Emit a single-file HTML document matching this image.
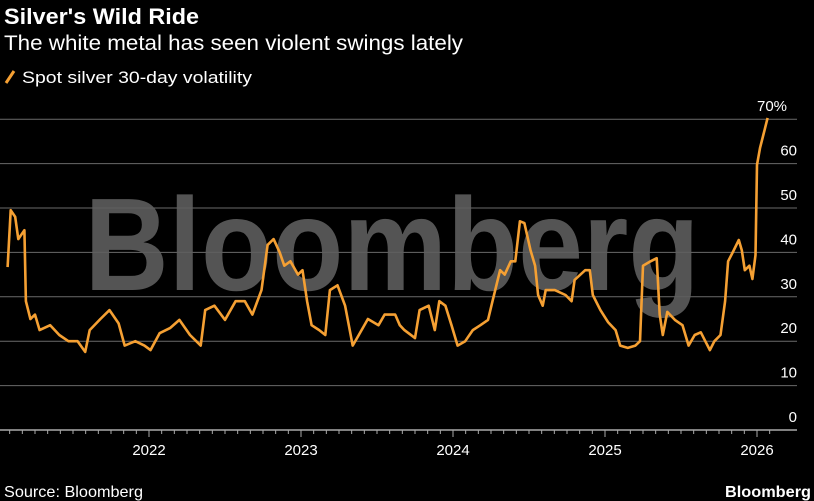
<!DOCTYPE html>
<html><head><meta charset="utf-8"><style>
html,body{margin:0;padding:0;background:#000;}
body{width:814px;height:501px;overflow:hidden;font-family:"Liberation Sans",sans-serif;}
</style></head><body>
<svg id="chart" width="814" height="501" viewBox="0 0 814 501" xmlns="http://www.w3.org/2000/svg" style="position:absolute;left:0;top:0">
<rect width="814" height="501" fill="#000"/>
<text x="4" y="24" fill="#fff" font-size="22" font-weight="bold" textLength="195" lengthAdjust="spacingAndGlyphs">Silver's Wild Ride</text>
<text x="4" y="50" fill="#fff" font-size="21" textLength="459" lengthAdjust="spacingAndGlyphs">The white metal has seen violent swings lately</text>
<g>
<line x1="6" y1="83" x2="14" y2="71" stroke="#f5a033" stroke-width="3"/>
<text x="22" y="83" fill="#fff" font-size="17" textLength="230" lengthAdjust="spacingAndGlyphs">Spot silver 30-day volatility</text>
</g>
<g id="grid"></g>
<text x="392" y="290" fill="#5e5e5e" font-size="132" font-weight="bold" text-anchor="middle" textLength="615" lengthAdjust="spacingAndGlyphs" opacity="0.9">Bloomberg</text>
<g id="yticks"></g>
<g id="xaxis"></g>
<path id="line" fill="none" stroke="#f5a033" stroke-width="2.6" stroke-linejoin="round"/>
<text x="4" y="497" fill="#fff" font-size="16" textLength="139" lengthAdjust="spacingAndGlyphs">Source: Bloomberg</text>
<text x="725" y="497" fill="#fff" font-size="16" font-weight="bold" textLength="86" lengthAdjust="spacingAndGlyphs">Bloomberg</text>
</svg>
<script>
const dates=[2021.07,2021.09,2021.12,2021.14,2021.18,2021.19,2021.22,2021.25,2021.28,2021.35,2021.41,2021.47,2021.53,2021.58,2021.61,2021.68,2021.74,2021.80,2021.84,2021.91,2021.97,2022.01,2022.07,2022.14,2022.20,2022.27,2022.34,2022.37,2022.43,2022.50,2022.57,2022.63,2022.68,2022.74,2022.78,2022.82,2022.86,2022.89,2022.93,2022.98,2023.01,2023.04,2023.07,2023.12,2023.16,2023.19,2023.24,2023.29,2023.34,2023.38,2023.44,2023.51,2023.55,2023.62,2023.65,2023.68,2023.75,2023.78,2023.84,2023.88,2023.91,2023.95,2023.99,2024.03,2024.08,2024.13,2024.18,2024.23,2024.26,2024.31,2024.34,2024.38,2024.41,2024.44,2024.47,2024.51,2024.54,2024.56,2024.59,2024.61,2024.67,2024.74,2024.78,2024.80,2024.87,2024.90,2024.92,2024.97,2025.02,2025.07,2025.10,2025.15,2025.20,2025.23,2025.25,2025.30,2025.34,2025.36,2025.38,2025.41,2025.46,2025.51,2025.55,2025.59,2025.63,2025.66,2025.69,2025.72,2025.76,2025.79,2025.81,2025.84,2025.88,2025.90,2025.92,2025.95,2025.97,2025.99,2026.00,2026.02,2026.05,2026.07];
const vols=[36.7,49.5,48,43,45,29,25,26,22.5,23.6,21.4,20,20,17.6,22.5,25,27,24,19,20,19,18,21.8,23,24.8,21.4,19,27,28,24.8,29,29,26,31.5,41.7,43,40,37,38,35,36,29,23.6,22.5,21.4,31.5,32.6,28,19,21.4,25,23.6,26,26,23.6,22.5,20.7,27,28,22.5,29,28,23.6,19,20,22.5,23.6,24.8,29,36,35,38,38,47,46.6,40.5,37,30.4,28,31.5,31.5,30.4,29,33.8,36,36,30.4,27,24.3,22.5,19,18.5,19,20,37,38,38.7,26,21.4,26.6,24.8,23.6,19,21.4,22,20,18,20,21.4,29,38,40,42.8,40.5,36,37,34,39.4,59.7,63.5,67.6,70.3];
const yTicks=[0,10,20,30,40,50,60,70];
const yLabels=["0","10","20","30","40","50","60","70%"];
const xYears=[2022,2023,2024,2025,2026];
const NS="http://www.w3.org/2000/svg";
const x=d=>149+(d-2022)*152;
const y=v=>430-v*4.44;
const grid=document.getElementById('grid'),yt=document.getElementById('yticks'),xa=document.getElementById('xaxis');
yTicks.forEach((t,i)=>{
  if(t>0){const l=document.createElementNS(NS,'line');
  l.setAttribute('x1',0);l.setAttribute('x2',797);l.setAttribute('y1',y(t));l.setAttribute('y2',y(t));
  l.setAttribute('stroke','#6a6a6a');l.setAttribute('stroke-width','1');
  
  
  grid.appendChild(l);}
  const tx=document.createElementNS(NS,'text');
  tx.setAttribute('x',797);tx.setAttribute('y',y(t)-8);tx.setAttribute('text-anchor','end');
  tx.setAttribute('fill','#fff');tx.setAttribute('font-size','15');tx.textContent=yLabels[i];
  if(t===70){tx.setAttribute('x',757);tx.setAttribute('text-anchor','start');}
  
  
  yt.appendChild(tx);
});
const ax=document.createElementNS(NS,'line');
ax.setAttribute('x1',0);ax.setAttribute('x2',797);ax.setAttribute('y1',430);ax.setAttribute('y2',430);
ax.setAttribute('stroke','#aaa');ax.setAttribute('stroke-width','1.5');


xa.appendChild(ax);
for(let m=0;m<62;m++){
  const d=2021+m/12;const px=x(d);if(px<2||px>797)continue;
  const isY=m%12===0;
  const tk=document.createElementNS(NS,'line');
  tk.setAttribute('x1',px);tk.setAttribute('x2',px);tk.setAttribute('y1',430);tk.setAttribute('y2',isY?437:434);
  tk.setAttribute('stroke','#aaa');tk.setAttribute('stroke-width','1');
  
  
  xa.appendChild(tk);
}
xYears.forEach(yr=>{
  const tx=document.createElementNS(NS,'text');
  tx.setAttribute('x',x(yr));tx.setAttribute('y',455);tx.setAttribute('text-anchor','middle');
  tx.setAttribute('fill','#fff');tx.setAttribute('font-size','15');tx.textContent=yr;
  
  
  xa.appendChild(tx);
});
document.getElementById('line').setAttribute('d',dates.map((d,i)=>(i?'L':'M')+x(d).toFixed(1)+','+y(vols[i]).toFixed(1)).join(''));
</script>
</body></html>
